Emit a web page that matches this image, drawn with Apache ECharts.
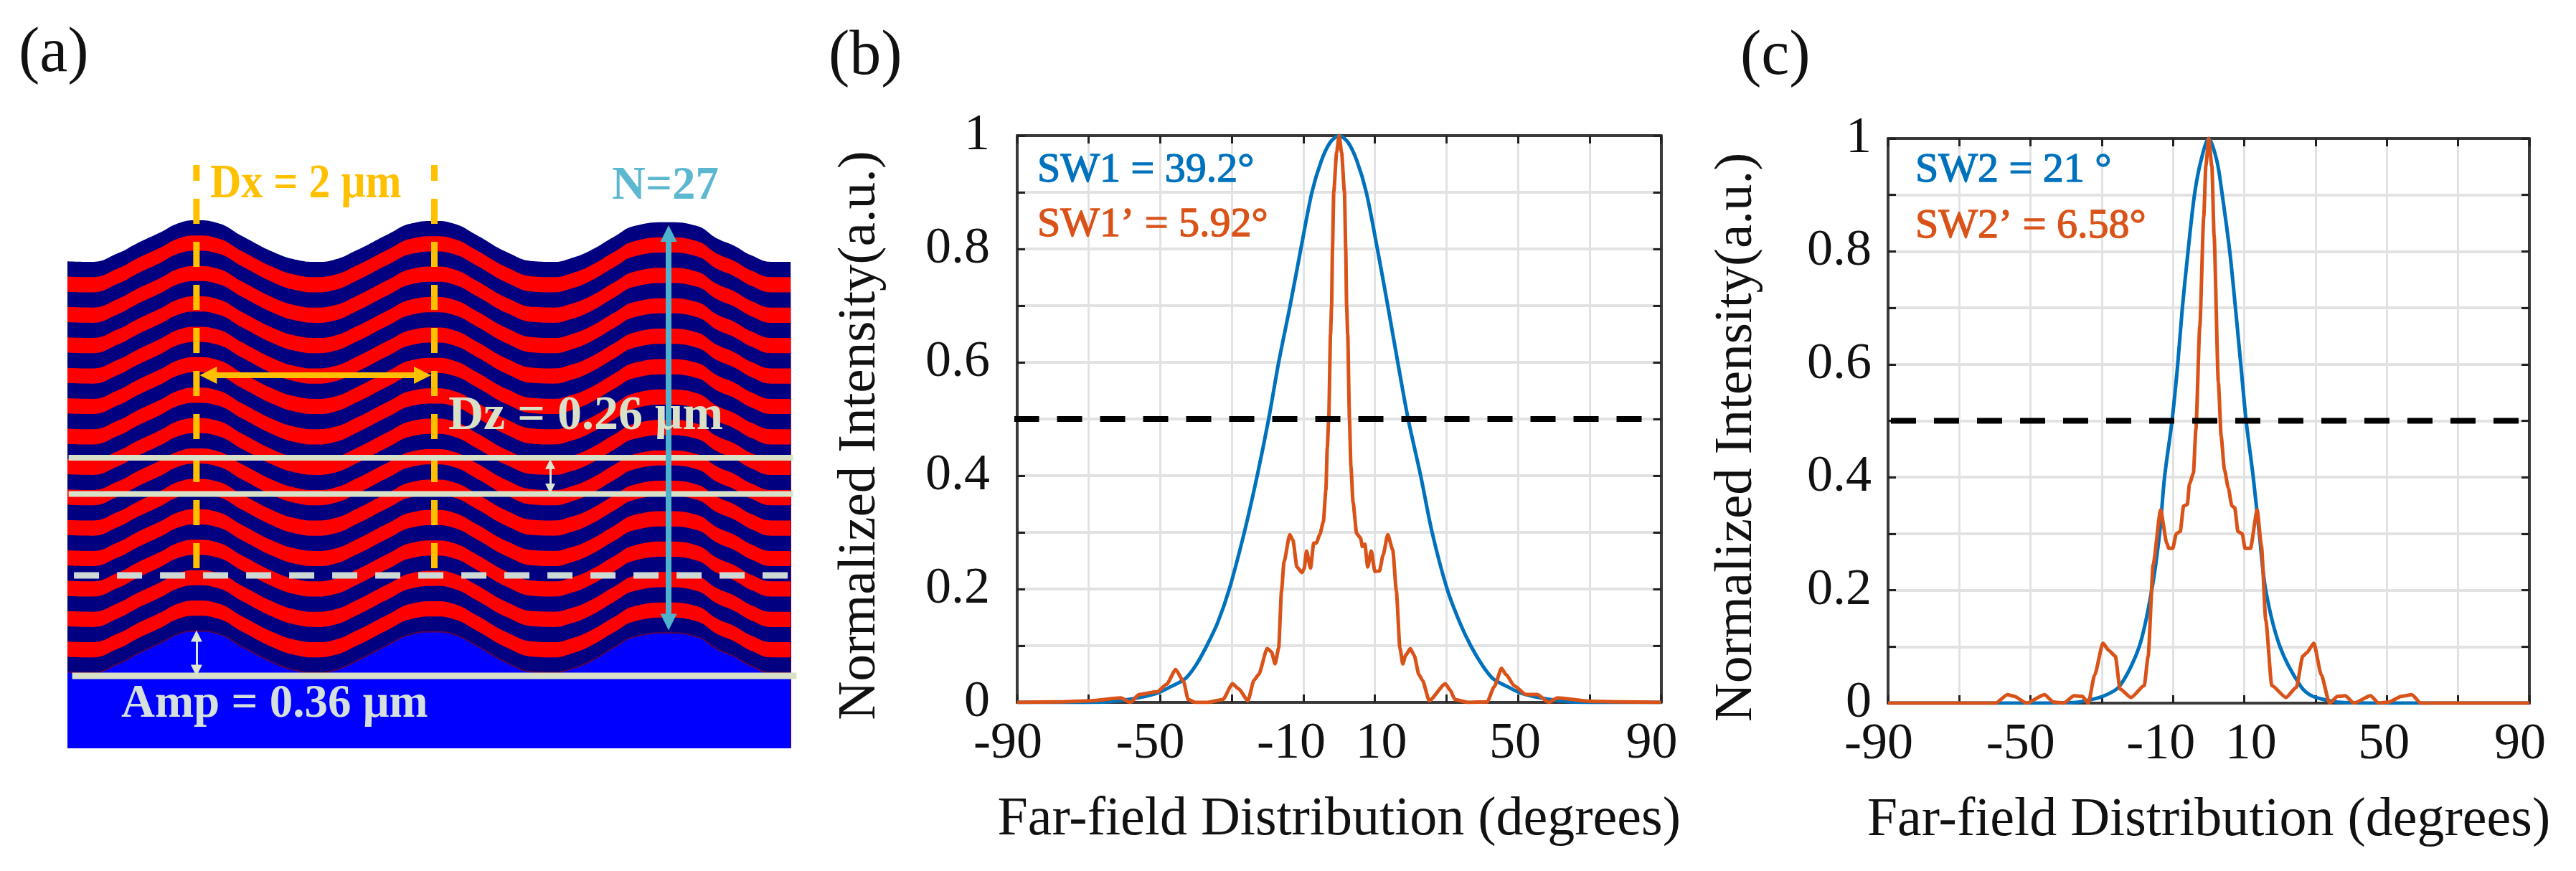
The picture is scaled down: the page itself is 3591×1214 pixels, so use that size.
<!DOCTYPE html>
<html>
<head>
<meta charset="utf-8">
<title>Far-field distribution</title>
<script src="https://cdn.jsdelivr.net/npm/echarts@6/dist/echarts.min.js"></script>
<style>
  html, body { margin: 0; padding: 0; background: #fff; }
  #chart { width: 3591px; height: 1214px; }
</style>
</head>
<body>
<div id="chart"></div>
<script>
// tick values and labels shared by panels b and c
const xTicks = [-90, -70, -50, -30, -10, 10, 30, 50, 70, 90];
const xLabels = [-90, -50, -10, 10, 50, 90];
const xLabelShift = [-13, -14, -17, 9, -4, -13];
const yLabels = ['0', '0.2', '0.4', '0.6', '0.8', '1'];

// panel b
const sw1Deg = [-90, -75, -65, -58, -51, -47, -43, -40, -37, -34, -30.7, -26.5, -22.9, -19.7, -16.9, -13.7, -10.7, -7.6, -5, -2.5, 0, 2.5, 5, 7.6, 10.7, 13.6, 16.4, 19.3, 22.8, 26, 30.2, 33.8, 36.8, 40, 43, 47, 51, 58, 65, 75, 90];
const sw1Val = [0, 0, 0.001, 0.006, 0.016, 0.028, 0.042, 0.066, 0.1, 0.14, 0.2, 0.3, 0.4, 0.5, 0.6, 0.7, 0.8, 0.9, 0.955, 0.988, 1, 0.988, 0.955, 0.9, 0.8, 0.7, 0.6, 0.5, 0.4, 0.3, 0.2, 0.14, 0.1, 0.066, 0.042, 0.028, 0.016, 0.006, 0.001, 0, 0];
const sw1pDeg = [-90, -78, -69.3, -61, -58.4, -55.9, -50.8, -48.2, -45.7, -43.5, -42.2, -40.2, -36.8, -32.5, -29.8, -28.1, -25.5, -23.8, -22.5, -20.1, -18.9, -17.9, -16.9, -16.1, -15.4, -13.8, -12.9, -11.8, -10.4, -9.8, -9.1, -8, -7.1, -6.4, -5.4, -4.4, -3.7, -3.3, -2.9, -2.4, -2.1, -1.85, -1.5, -0.7, 0, 0.7, 1.5, 1.85, 2.1, 2.4, 2.9, 3.3, 3.9, 4.9, 6, 6.5, 7.2, 8, 9, 10, 11.3, 12.3, 13.6, 15, 16, 17, 17.8, 18.6, 19.9, 21, 22.3, 23.3, 25.2, 29.7, 31, 32.4, 36, 41.4, 43.4, 45.4, 46.7, 49, 52.2, 55.4, 58.6, 61, 70, 78, 90];
const sw1pVal = [0, 0.001, 0.003, 0.008, 0, 0.014, 0.019, 0.032, 0.058, 0.037, 0.005, 0, 0, 0.005, 0.033, 0.024, 0.003, 0.039, 0.049, 0.095, 0.089, 0.068, 0.096, 0.197, 0.248, 0.296, 0.286, 0.239, 0.229, 0.235, 0.267, 0.237, 0.281, 0.281, 0.296, 0.319, 0.374, 0.45, 0.5, 0.65, 0.7, 0.8, 0.9, 0.97, 1, 0.97, 0.9, 0.8, 0.7, 0.65, 0.5, 0.416, 0.353, 0.298, 0.29, 0.275, 0.279, 0.239, 0.267, 0.231, 0.232, 0.26, 0.296, 0.269, 0.197, 0.096, 0.068, 0.083, 0.095, 0.083, 0.049, 0.039, 0.003, 0.033, 0.022, 0.005, 0, 0.001, 0.028, 0.06, 0.049, 0.029, 0.014, 0.014, 0, 0.008, 0.002, 0.001, 0];
const halfDeg1 = [-90.9, 85];

// panel c
const sw2Deg = [-90, -60, -45, -38, -35.5, -29.7, -25, -19.5, -16, -13.8, -12.4, -10.3, -8.7, -7.4, -5.8, -4, -2.2, 0, 2.3, 3.8, 5.9, 7.5, 9, 10.5, 12.5, 14.2, 16, 20, 25.8, 29.2, 35, 38, 45, 60, 90];
const sw2Val = [0, 0, 0, 0.001, 0.003, 0.012, 0.03, 0.1, 0.2, 0.3, 0.4, 0.5, 0.6, 0.7, 0.8, 0.9, 0.96, 1, 0.96, 0.9, 0.8, 0.7, 0.6, 0.5, 0.4, 0.3, 0.2, 0.1, 0.03, 0.012, 0.003, 0.001, 0, 0, 0];
const sw2pDeg = [-90, -59.8, -56.5, -54.6, -51.1, -46.1, -43.6, -40.7, -37.8, -35.5, -33.8, -32, -29.7, -28, -26.2, -24.9, -21.8, -18.1, -17, -15.6, -13.5, -11.8, -11.2, -10.1, -9.1, -8, -7.05, -6, -5.4, -4.3, -3.6, -2.5, -1.4, -0.8, 0, 0.9, 1.5, 2.7, 3.5, 4.4, 5.5, 6.5, 7.3, 8.2, 9.4, 10.2, 11.7, 13.6, 14.8, 16, 17.7, 21.7, 24.6, 26.4, 27.5, 29.5, 31.6, 33.9, 36.2, 38.3, 40.8, 45.4, 47.7, 50.6, 54.1, 57, 59.5, 90];
const sw2pVal = [0, 0, 0.015, 0.012, 0, 0.015, 0.002, 0, 0.013, 0.012, 0, 0.05, 0.106, 0.093, 0.083, 0.025, 0.01, 0.031, 0.083, 0.245, 0.342, 0.284, 0.274, 0.274, 0.3, 0.304, 0.349, 0.352, 0.388, 0.407, 0.485, 0.667, 0.861, 0.952, 1, 0.95, 0.829, 0.569, 0.472, 0.414, 0.381, 0.349, 0.346, 0.304, 0.3, 0.274, 0.274, 0.342, 0.278, 0.148, 0.031, 0.01, 0.028, 0.083, 0.089, 0.106, 0.05, 0, 0.012, 0.013, 0, 0.013, 0, 0.002, 0.012, 0.015, 0, 0];
const halfDeg2 = [-89.2, 87.6];
const halfLevel = [0.5, 0.5];

// panel a, in micrometres: surface profile above its trough and the trough height of each layer
const profileX = [0, 0.2, 0.435, 0.59, 0.78, 0.95, 1.09, 1.26, 1.478, 1.75, 1.94, 2.1, 2.25, 2.44, 2.715, 2.91, 3.1, 3.27, 3.45, 3.72, 3.95, 4.1, 4.25, 4.42, 4.61, 4.8, 5.07, 5.31, 5.49, 5.63, 5.78, 5.96, 6.11];
const profileH = [0.005, 0, 0.078, 0.16, 0.25, 0.335, 0.356, 0.335, 0.22, 0.08, 0.017, 0, 0.018, 0.098, 0.24, 0.33, 0.35, 0.325, 0.233, 0.08, 0.005, 0, 0.03, 0.098, 0.21, 0.31, 0.34, 0.31, 0.2, 0.14, 0.055, 0, 0];
const layerTrough = [4.157, 4.027, 3.897, 3.767, 3.637, 3.507, 3.377, 3.247, 3.117, 2.987, 2.857, 2.727, 2.597, 2.467, 2.337, 2.207, 2.077, 1.947, 1.817, 1.687, 1.557, 1.427, 1.297, 1.167, 1.037, 0.907, 0.777, 0.647];
const guideX = [1.09, 3.1];
const guideZ = [1.539, 4.985];
const dzLevels = [2.483, 2.174];
const dashedLevel = 1.478;
const ampLevel = 0.619;

const SERIF = '"Liberation Serif", serif';
const BLUE = '#0072bd';
const ORANGE = '#d95319';
const YELLOW = '#ffc000';
const CYAN = '#4fb2cc';
const PALE = '#d8e1c8';

const zip = (xs, ys) => xs.map((x, i) => [x, ys[i]]);

const grids = [
  { left: 94, top: 195, width: 1023, height: 848 },
  { left: 1418, top: 189, width: 897.5, height: 790 },
  { left: 2632, top: 193, width: 894, height: 787 }
];
const xAxes = [{ gridIndex: 0, type: 'value', min: 0, max: 6.2, show: false }];
const yAxes = [{ gridIndex: 0, type: 'value', min: 0, max: 5.2, show: false }];
const series = [];

// ---- panel a ----
layerTrough.forEach((z, k) => {
  const last = k === layerTrough.length - 1;
  const color = last ? '#0000ff' : (k % 2 === 0 ? '#000080' : '#ff0000');
  series.push({
    type: 'line', xAxisIndex: 0, yAxisIndex: 0, smooth: 0.5, showSymbol: false, silent: true,
    data: zip(profileX, profileH.map(h => h + z)),
    lineStyle: last ? { width: 2, color: '#55004f' } : { width: 0 },
    areaStyle: { color: color, opacity: 1 }
  });
});

function panelLine(points, color, width, type) {
  series.push({
    type: 'line', xAxisIndex: 0, yAxisIndex: 0, showSymbol: false, silent: true, data: points,
    lineStyle: { color: color, width: width, type: type || 'solid', cap: 'butt' }
  });
}
guideX.forEach(x => panelLine(guideZ.map(z => [x, z]), YELLOW, 9, [35, 25]));
dzLevels.forEach(z => panelLine([[0.01, z], [6.13, z]], PALE, 8));
panelLine([[0.055, dashedLevel], [6.09, dashedLevel]], '#cdd9d4', 9, [35, 25]);
panelLine([[0.04, ampLevel], [6.16, ampLevel]], PALE, 9);

function panelArrow(from, to, color, width, size, z) {
  series.push({
    type: 'line', xAxisIndex: 0, yAxisIndex: 0, showSymbol: false, silent: true, z: z || 2,
    data: [from, to], lineStyle: { width: 0 },
    markLine: {
      silent: true, animation: false, symbol: ['triangle', 'triangle'], symbolSize: size,
      label: { show: false }, lineStyle: { color: color, width: width, type: 'solid' },
      emphasis: { disabled: true },
      data: [[{ coord: from }, { coord: to }]]
    }
  });
}
panelArrow([1.19, 3.189], [3.0, 3.189], YELLOW, 8, 24);
panelArrow([5.079, 4.4], [5.079, 1.08], CYAN, 8, 23, 60);
panelArrow([4.079, 2.43], [4.079, 2.22], '#dce5d0', 3, 14);
panelArrow([1.09, 0.96], [1.09, 0.665], '#dce5d0', 3, 16);

// ---- panels b and c ----
function addPlot(gridIndex, blue, orange, half) {
  const bottomX = xAxes.length;
  const leftY = yAxes.length;
  const line = { lineStyle: { color: '#3a3a3a', width: 4 } };
  const ticks = { show: true, inside: true, length: 11, customValues: xTicks, lineStyle: { color: '#222', width: 3 } };
  xAxes.push({
    gridIndex: gridIndex, type: 'value', min: -90, max: 90, position: 'bottom',
    axisLine: Object.assign({ onZero: false }, line), axisTick: ticks,
    splitLine: { show: true, lineStyle: { color: '#e2e2e2', width: 3 } },
    axisLabel: {
      customValues: xLabels, margin: 22, color: '#111', fontFamily: SERIF, fontSize: 72, hideOverlap: false, showMinLabel: true, showMaxLabel: true,
      // the tick labels of the figure sit a little off their ticks
      formatter: v => '{t' + xLabels.indexOf(v) + '|' + v + '}',
      rich: Object.fromEntries(xLabels.map((v, i) => ['t' + i, {
        fontFamily: SERIF, fontSize: 72, color: '#111',
        padding: xLabelShift[i] < 0 ? [0, -2 * xLabelShift[i], 0, 0] : [0, 0, 0, 2 * xLabelShift[i]]
      }]))
    },
    name: 'Far-field Distribution (degrees)', nameLocation: 'middle', nameGap: 126,
    nameTextStyle: { fontFamily: SERIF, fontSize: 76, color: '#111' }
  });
  xAxes.push({
    gridIndex: gridIndex, type: 'value', min: -90, max: 90, position: 'top',
    axisLine: Object.assign({ onZero: false }, line), axisTick: ticks, axisLabel: { show: false }, splitLine: { show: false }
  });
  const yCommon = { gridIndex: gridIndex, type: 'value', min: 0, max: 1, interval: 0.1 };
  const yTicks = { show: true, inside: true, length: 11, lineStyle: { color: '#222', width: 3 } };
  yAxes.push(Object.assign({}, yCommon, {
    position: 'left',
    axisLine: Object.assign({ show: true, onZero: false }, line), axisTick: yTicks,
    splitLine: { show: true, lineStyle: { color: '#e2e2e2', width: 4 } },
    axisLabel: {
      margin: gridIndex === 1 ? 38 : 23, color: '#111', fontFamily: SERIF, fontSize: 72, padding: [0, 0, 12, 0],
      formatter: v => { const s = String(+v.toFixed(1)); return yLabels.includes(s) ? s : ''; }
    },
    name: 'Normalized Intensity(a.u.)', nameLocation: 'middle', nameGap: gridIndex === 1 ? 181 : 173, nameRotate: 90,
    nameTextStyle: { fontFamily: SERIF, fontSize: 75, color: '#111', padding: [0, 46, 0, 0] }
  }));
  yAxes.push(Object.assign({}, yCommon, {
    position: 'right',
    axisLine: Object.assign({ show: true, onZero: false }, line), axisTick: yTicks, axisLabel: { show: false }, splitLine: { show: false }
  }));
  const common = { type: 'line', xAxisIndex: bottomX, yAxisIndex: leftY, showSymbol: false, silent: true };
  series.push(Object.assign({}, common, { data: blue, smooth: 0.3, lineStyle: { color: BLUE, width: 5 } }));
  series.push(Object.assign({}, common, { data: orange, smooth: 0.2, smoothMonotone: 'x', lineStyle: { color: ORANGE, width: 5 } }));
  series.push(Object.assign({}, common, { data: zip(half, halfLevel), clip: false, lineStyle: { color: '#000', width: 8, type: [35, 25], cap: 'butt' } }));
}
addPlot(1, zip(sw1Deg, sw1Val), zip(sw1pDeg, sw1pVal), halfDeg1);
addPlot(2, zip(sw2Deg, sw2Val), zip(sw2pDeg, sw2pVal), halfDeg2);

// ---- text ----
function label(text, x, y, font, fill, extra) {
  return Object.assign({
    type: 'text', x: x, y: y, z: 50, silent: true,
    style: { text: text, font: font, fill: fill, stroke: extra && extra.heavy ? fill : null, lineWidth: 1.3, textVerticalAlign: 'middle' }
  }, extra && extra.scaleY ? { scaleY: extra.scaleY } : {});
}
const graphics = [
  label('(a)', 26, 76, '88px ' + SERIF, '#111'),
  label('(b)', 1155, 80, '88px ' + SERIF, '#111'),
  label('(c)', 2426, 80, '88px ' + SERIF, '#111'),
  label('Dx = 2 μm', 293, 258, 'bold 60px ' + SERIF, YELLOW, { scaleY: 1.12 }),
  label('N=27', 853, 260, 'bold 65px ' + SERIF, '#5cb8d0'),
  label('Dz = 0.26 μm', 625, 580, 'bold 68px ' + SERIF, PALE),
  label('Amp = 0.36 μm', 169, 982, 'bold 65px ' + SERIF, '#d5e0dd'),
  label('SW1 = 39.2°', 1446, 238, '58px ' + SERIF, BLUE, { heavy: true }),
  label('SW1’ = 5.92°', 1446, 314, '58px ' + SERIF, ORANGE, { heavy: true }),
  label('SW2 = 21 °', 2670, 238, '58px ' + SERIF, BLUE, { heavy: true }),
  label('SW2’ = 6.58°', 2670, 316, '58px ' + SERIF, ORANGE, { heavy: true })
];

const chart = echarts.init(document.getElementById('chart'), null, { renderer: 'canvas' });
chart.setOption({
  animation: false,
  backgroundColor: '#fff',
  textStyle: { fontFamily: SERIF },
  grid: grids,
  xAxis: xAxes,
  yAxis: yAxes,
  series: series,
  graphic: graphics
});
</script>
</body>
</html>
